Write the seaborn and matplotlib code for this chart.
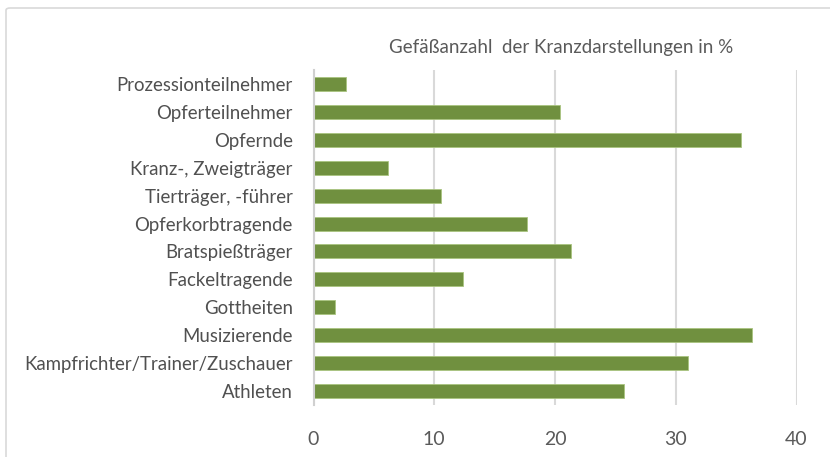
import pandas as pd
import matplotlib.pyplot as plt
import seaborn as sns
from matplotlib.patches import FancyBboxPatch

# Daten
kategorien = ["Prozessionteilnehmer", "Opferteilnehmer", "Opfernde",
              "Kranz-, Zweigträger", "Tierträger, -führer", "Opferkorbtragende",
              "Bratspießträger", "Fackeltragende", "Gottheiten", "Musizierende",
              "Kampfrichter/Trainer/Zuschauer", "Athleten"]
werte = [2.7, 20.4, 35.4, 6.2, 10.6, 17.7, 21.3, 12.4, 1.8, 36.3, 31.0, 25.7]
x_ticks = [0, 10, 20, 30, 40]

df = pd.DataFrame({"kategorie": kategorien, "wert": werte})

sns.set_style("white")
plt.rcParams["font.family"] = ["Lato", "DejaVu Sans"]

fig = plt.figure(figsize=(8.30, 4.57), dpi=100)
ax = fig.add_axes([313.5 / 830, 1 - 405 / 457, 483 / 830, 335 / 457])

sns.barplot(data=df, x="wert", y="kategorie", orient="h", color="#70903F",
            saturation=1, width=0.5, edgecolor="#A9C47F", linewidth=0.6, ax=ax)

ax.set_xlim(0, 40)
ax.set_ylim(11.5, -0.5)
ax.set_xticks(x_ticks)
ax.set_xticklabels([str(t) for t in x_ticks], color="#5A5A5A", fontsize=14)
ax.tick_params(axis="x", length=5, color="#D9D9D9", width=1.5, pad=14)
ax.tick_params(axis="y", length=0, pad=15, labelsize=13.4, labelcolor="#505050")
ax.set_xlabel("")
ax.set_ylabel("")
ax.grid(axis="x", color="#D9D9D9", linewidth=1.5)
ax.set_axisbelow(True)
for s in ["top", "right", "bottom"]:
    ax.spines[s].set_visible(False)
ax.spines["left"].set_color("#D0D0D0")
ax.spines["left"].set_linewidth(1.5)

fig.text(561 / 830, 1 - 47 / 457, "Gefäßanzahl  der Kranzdarstellungen in %",
         ha="center", va="center", fontsize=13.5, color="#5A5A5A")

# Rahmen
fig.patches.append(FancyBboxPatch((6 / 830, -0.05), 1.0, 1 - 8 / 457 + 0.05,
                                  boxstyle="round,pad=0,rounding_size=0.005",
                                  transform=fig.transFigure, fill=False,
                                  edgecolor="#D9D9D9", linewidth=1.2))

plt.savefig("out.png", dpi=100)
